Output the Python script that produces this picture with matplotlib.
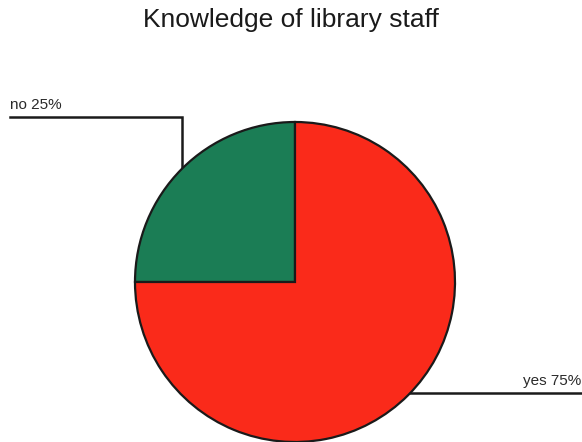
import numpy as np
import matplotlib.pyplot as plt

plt.rcParams['font.family'] = ['Liberation Sans', 'DejaVu Sans']

# Data
labels = ['no', 'yes']
shares = [25, 75]
colors = ['#1b7d55', '#fa2a1a']
title = "Knowledge of library staff"

W, H = 582, 442
cx, cy, r = 295, 282, 160  # pie centre / radius in pixels

fig = plt.figure(figsize=(W / 100, H / 100), dpi=100)
ax = fig.add_axes([0, 0, 1, 1])

wedges, _ = ax.pie(shares, colors=colors, startangle=90, counterclock=True,
                   radius=1.0, wedgeprops=dict(edgecolor='#1a1a1a', linewidth=1.6))

# pie() resets the limits, so set them afterwards
ax.set_xlim(-cx / r, (W - cx) / r)
ax.set_ylim(-(H - cy) / r, cy / r)
ax.set_aspect('equal')
ax.axis('off')

# leader lines with labels
for i, w in enumerate(wedges):
    mid = np.deg2rad((w.theta1 + w.theta2) / 2)
    x0, y0 = np.cos(mid), np.sin(mid)
    txt = f"{labels[i]} {shares[i]}%"
    if x0 < 0:
        ytop = (cy - 117) / r
        xend = (10 - cx) / r
        ax.plot([x0, x0, xend], [y0, ytop, ytop], color='#1a1a1a', lw=1.8,
                solid_joinstyle='miter', zorder=0)
        ax.text(xend, ytop + 0.03, txt, ha='left', va='bottom', fontsize=11,
                color='#2a2a2a')
    else:
        xend = (W - cx) / r
        y0 = (cy - 393) / r
        ax.plot([np.sqrt(1 - y0 ** 2), xend], [y0, y0], color='#1a1a1a', lw=1.8, zorder=0)
        ax.text(xend - 0.005, y0 + 0.03, txt, ha='right', va='bottom', fontsize=11,
                color='#2a2a2a')

fig.text(0.5, 1 - 20 / H, title, ha='center', va='center', fontsize=19,
         color='#1a1a1a')

fig.savefig('out.png', dpi=100)
